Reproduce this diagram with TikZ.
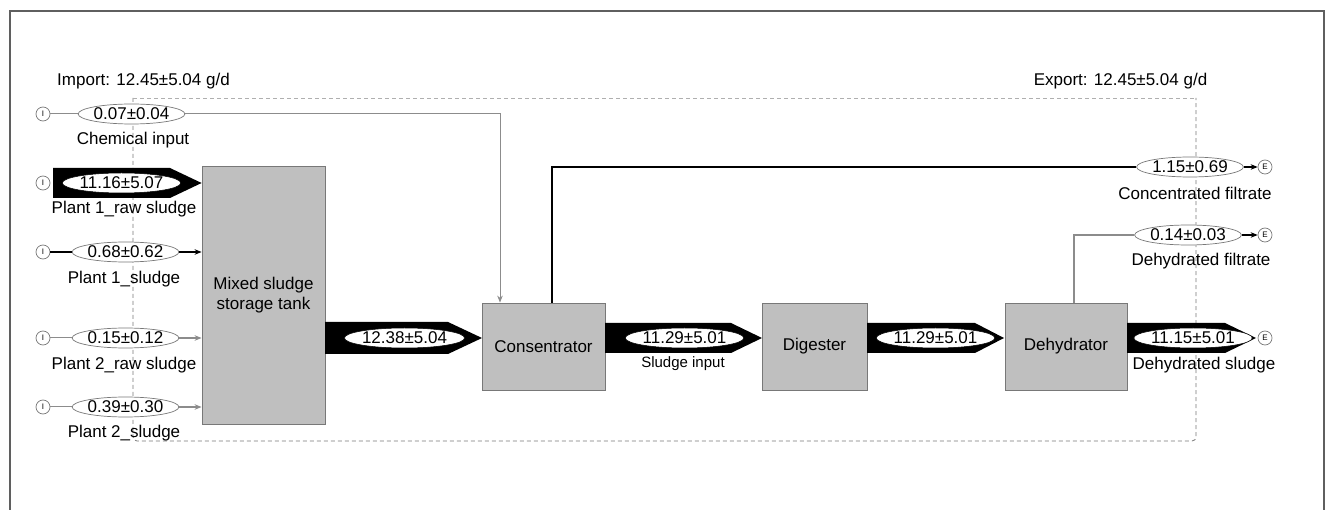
\documentclass[tikz,border=0pt]{standalone}
\usepackage{fontspec}
\setmainfont{Liberation Sans}
\usetikzlibrary{shapes.geometric,arrows.meta}
\definecolor{boxgray}{RGB}{191,191,191}
\definecolor{edgegray}{RGB}{120,120,120}
\definecolor{linegray}{RGB}{140,140,140}
\definecolor{framegray}{RGB}{95,95,95}
\definecolor{lightdash}{RGB}{175,175,175}
\begin{document}
\begin{tikzpicture}[x=1pt,y=-1pt,
  lab/.style={font=\fontsize{17}{20}\selectfont, inner sep=0},
  smalllab/.style={font=\fontsize{15}{18}\selectfont, inner sep=0},
  procbox/.style={draw=edgegray, fill=boxgray, line width=0.8pt, inner sep=0,
    font=\fontsize{17}{20}\selectfont, align=center},
  port/.style={circle, draw=edgegray, fill=white, line width=0.7pt, minimum size=14, inner sep=0,
    font=\fontsize{8}{9}\selectfont},
  val/.style={ellipse, draw=edgegray, fill=white, line width=0.7pt, minimum height=20, inner sep=0,
    font=\fontsize{17}{20}\selectfont},
  bandval/.style={ellipse, draw=black, fill=white, line width=0.5pt, minimum height=20, inner sep=0,
    font=\fontsize{17}{20}\selectfont},
  band/.style={fill=black},
  thinflow/.style={draw=linegray, line width=1pt},
  tip/.style={-{Stealth[length=7pt,width=5.5pt]}},
  boundary/.style={draw=edgegray, line width=0.8pt, dash pattern=on 4pt off 3pt, rounded corners=4}
]
\useasboundingbox (0,0) rectangle (1328,510);
% frame
\draw[framegray, line width=1.2pt] (10,510) -- (10,11) -- (1324,11) -- (1324,510);

% system boundary
\draw[boundary] (133,98) -- (133,441) -- (1196,441) -- (1196,98);
\draw[boundary, draw=lightdash] (133,98) -- (1196,98);

\node[lab] (imp) at (143.5,81) {Import: 12.45±5.04 g/d};
\node[lab] (exp) at (1120.5,81) {Export: 12.45±5.04 g/d};

% process boxes
\node[procbox, minimum width=123, minimum height=258] (tank) at (263.5,295) {Mixed sludge\\storage tank};
\node[procbox, minimum width=123, minimum height=87] (cons) at (543.5,346.5) {Consentrator};
\node[procbox, minimum width=105, minimum height=87] (dig) at (814.5,346.5) {Digester};
\node[procbox, minimum width=122, minimum height=87] (dehy) at (1066,346.5) {Dehydrator};

% import ports
\node[port] (i1) at (43,114) {I};
\node[port] (i2) at (43,183) {I};
\node[port] (i3) at (43,252) {I};
\node[port] (i4) at (43,338) {I};
\node[port] (i5) at (43,407) {I};

% export ports
\node[port] (e1) at (1265,167) {E};
\node[port] (e2) at (1265,235) {E};
\node[port] (e3) at (1265,338) {E};

% chemical input
\node[val, minimum width=97] (chem) at (131.5,114) {0.07±0.04};
\node[lab] (chemlab) at (133,140) {Chemical input};
\draw[thinflow] (i1) -- (chem);
\draw[thinflow, tip] (chem.east) -| ([xshift=-43.5pt]cons.north);

% plant 1 raw sludge band
\fill[band] (53,168) -- (170,168) -- (tank.west |- i2) -- (170,198) -- (53,198) -- cycle;
\node[bandval, minimum width=97] (p1r) at (121.5,183) {11.16±5.07};
\node[lab] (p1rlab) at (124,209) {Plant 1\_raw sludge};

% plant 1 sludge
\node[val, minimum width=95] (p1s) at (125.5,252) {0.68±0.62};
\node[lab] (p1slab) at (124,279) {Plant 1\_sludge};
\draw[line width=2pt] (i3) -- (p1s);
\draw[line width=2pt, tip] (p1s) -- (tank.west |- p1s);

% plant 2 raw sludge
\node[val, minimum width=95] (p2r) at (125.5,338) {0.15±0.12};
\node[lab] (p2rlab) at (124,365) {Plant 2\_raw sludge};
\draw[thinflow] (i4) -- (p2r);
\draw[thinflow, line width=1.3pt, tip] (p2r) -- (tank.west |- p2r);

% plant 2 sludge
\node[val, minimum width=95] (p2s) at (125.5,407) {0.39±0.30};
\node[lab] (p2slab) at (124,433) {Plant 2\_sludge};
\draw[thinflow] (i5) -- (p2s);
\draw[thinflow, line width=1.3pt, tip] (p2s) -- (tank.west |- p2s);

% tank -> consentrator
\fill[band] (325,322) -- (448,322) -- (482,338) -- (448,354) -- (325,354) -- cycle;
\node[bandval, minimum width=105] (m1) at (404.5,338) {12.38±5.04};

% consentrator -> digester
\fill[band] (605,323) -- (731,323) -- (762,338) -- (731,353) -- (605,353) -- cycle;
\node[bandval, minimum width=105] (m2) at (684.5,338) {11.29±5.01};
\node[smalllab] (m2lab) at (683,364) {Sludge input};

% digester -> dehydrator
\fill[band] (867,323) -- (975,323) -- (1004,338) -- (975,353) -- (867,353) -- cycle;
\node[bandval, minimum width=105] (m3) at (935.5,338) {11.29±5.01};

% dehydrator -> export
\fill[band] (1127,323) -- (1225,323) -- (1256,338) -- (1225,353) -- (1127,353) -- cycle;
\node[bandval, minimum width=104] (m4) at (1193,338) {11.15±5.01};
\node[lab] (m4lab) at (1204,365) {Dehydrated sludge};

% concentrated filtrate
\node[val, minimum width=94] (cf) at (1190,167) {1.15±0.69};
\node[lab] (cflab) at (1195,193) {Concentrated filtrate};
\draw[line width=2.6pt] ([xshift=8.5pt]cons.north) |- (cf.west);
\draw[line width=2.2pt, tip] (cf.east) -- (e1.west);

% dehydrated filtrate
\node[val, minimum width=94] (df) at (1188,235) {0.14±0.03};
\node[lab] (dflab) at (1201,261) {Dehydrated filtrate};
\draw[thinflow, line width=1.1pt] ([xshift=8pt]dehy.north) |- (df.west);
\draw[line width=1.6pt, tip] (df.east) -- (e2.west);
\end{tikzpicture}
\end{document}
